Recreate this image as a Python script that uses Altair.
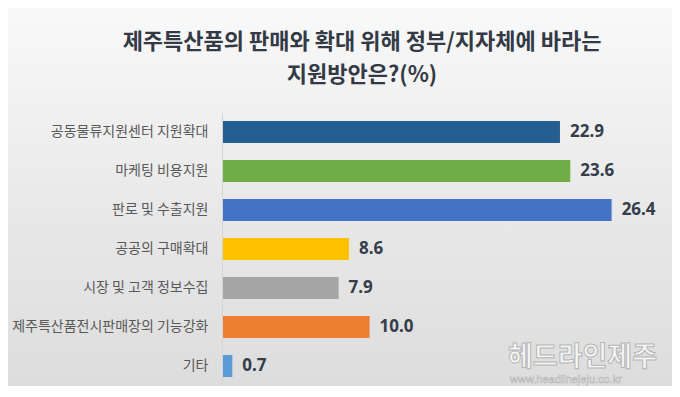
import altair as alt
import pandas as pd

title_lines = ["제주특산품의 판매와 확대 위해 정부/지자체에 바라는", "지원방안은?(%)"]
categories = [
    "공동물류지원센터 지원확대",
    "마케팅 비용지원",
    "판로 및 수출지원",
    "공공의 구매확대",
    "시장 및 고객 정보수집",
    "제주특산품전시판매장의 기능강화",
    "기타",
]
values = [22.9, 23.6, 26.4, 8.6, 7.9, 10.0, 0.7]
colors = ["#255E91", "#70AD47", "#4472C4", "#FFC000", "#A5A5A5", "#ED7D31", "#5B9BD5"]
labels = ["22.9", "23.6", "26.4", "8.6", "7.9", "10.0", "0.7"]

df = pd.DataFrame({"category": categories, "value": values, "label": labels})

KFONT = "Noto Sans CJK KR"
W, H = 428, 273
PADL, PADT, PADR = 214, 104.5, 22

bg = alt.Chart(pd.DataFrame({"a": [0]})).mark_rect(
    fill=alt.Gradient(
        gradient="linear",
        stops=[
            alt.GradientStop(color="#f9f9f9", offset=0),
            alt.GradientStop(color="#e9e9e9", offset=0.5),
            alt.GradientStop(color="#dcdcdc", offset=1),
        ],
        x1=0, x2=0, y1=0, y2=1,
    ),
    clip=False,
).encode(
    x=alt.value(-PADL), x2=alt.value(W + PADR),
    y=alt.value(-PADT), y2=alt.value(H + 10),
)

base = alt.Chart(df).encode(
    y=alt.Y(
        "category:N",
        sort=None,
        scale=alt.Scale(paddingInner=0.436, paddingOuter=0.218),
        axis=alt.Axis(
            title=None, labelFontSize=14, labelColor="#595959", labelFont=KFONT,
            labelPadding=14, ticks=False, domainColor="#d4d4d4", grid=False,
            zindex=1, labelLimit=260,
        ),
    ),
    x=alt.X("value:Q", scale=alt.Scale(domain=[0, 29], nice=False), axis=None),
)

bars = base.mark_bar().encode(
    color=alt.Color("category:N", scale=alt.Scale(domain=categories, range=colors), legend=None)
)

text = base.mark_text(
    align="left", baseline="middle", dx=10, fontSize=17, fontWeight="bold",
    font="Noto Sans", color="#343d4a",
).encode(text="label:N")


def title_line(s, ypos):
    return alt.Chart(pd.DataFrame({"t": [s]})).mark_text(
        align="center", baseline="middle", fontSize=22, fontWeight="bold", font=KFONT,
        color="#333a45", clip=False,
    ).encode(x=alt.value(140), y=alt.value(ypos), text="t:N")


t1 = title_line(title_lines[0], -70.5)
t2 = title_line(title_lines[1], -37.5)

wm1 = alt.Chart(pd.DataFrame({"t": ["헤드라인제주"]})).mark_text(
    align="left", baseline="middle", fontSize=27, fontWeight="bold", font=KFONT,
    fill="#f6f6f6", stroke="#b5b5b5", strokeWidth=1, clip=False,
).encode(x=alt.value(286), y=alt.value(245), text="t:N")

wm2 = alt.Chart(pd.DataFrame({"t": ["www.headlinejeju.co.kr"]})).mark_text(
    align="left", baseline="middle", fontSize=11, font="Liberation Sans",
    fill="#f6f6f6", stroke="#b5b5b5", strokeWidth=0.6, clip=False,
).encode(x=alt.value(288), y=alt.value(267), text="t:N")

chart = alt.layer(bg, bars, text, t1, t2, wm1, wm2).properties(
    width=W, height=H,
    padding={"left": PADL, "top": PADT, "right": PADR, "bottom": 0},
    autosize="none",
).configure_view(stroke=None).configure(background="#ffffff")

chart.save("out.html", embed_options={"renderer": "svg", "actions": False})
